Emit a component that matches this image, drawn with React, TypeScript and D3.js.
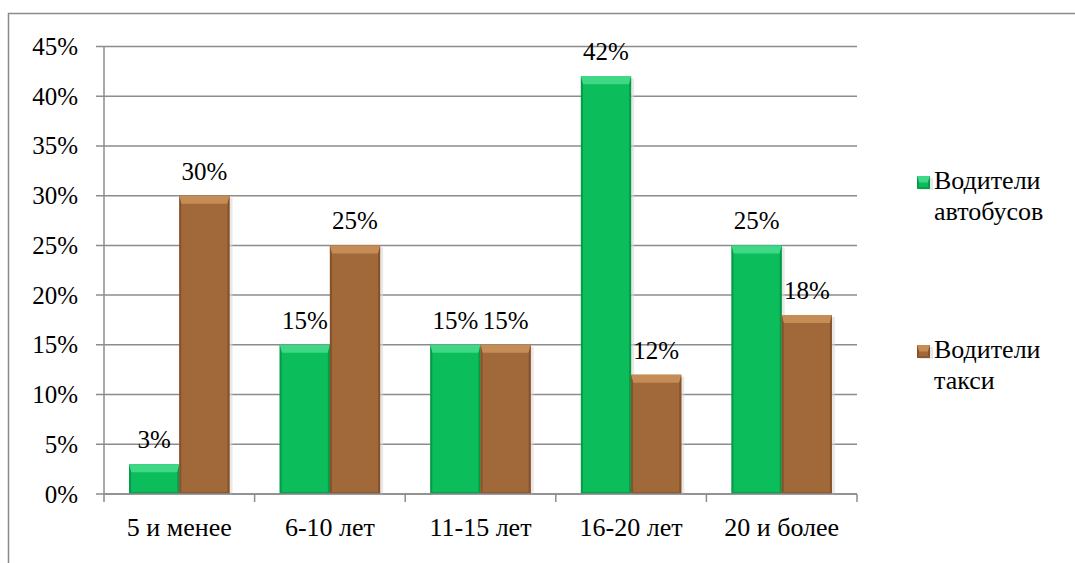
import React from 'react';
import * as d3 from 'd3';

const categories = ['5 и менее', '6-10 лет', '11-15 лет', '16-20 лет', '20 и более'];
const busDrivers = [3, 15, 15, 42, 25];
const taxiDrivers = [30, 25, 15, 12, 18];
const yTicks = [0, 5, 10, 15, 20, 25, 30, 35, 40, 45];
const seriesNames = [['Водители', 'автобусов'], ['Водители', 'такси']];

const W = 1075;
const H = 563;
const font = 'Liberation Serif';

// colours for each series: base, top bevel, side, bottom
const palette = [
  { base: '#0bbd5b', top: '#3fd886', side: '#089a48', bottom: '#07a04c' },
  { base: '#a1683a', top: '#c58c56', side: '#85522a', bottom: '#8b5830' },
];

const Bar = ({ x, y, w, h, c }: any) => {
  const b = Math.min(8, h / 2);
  const s = Math.min(2, w / 4);
  return (
    <g>
      <rect x={x + 3} y={y + 2} width={w} height={h - 1} fill="#d9d9d9" opacity={0.6} />
      <rect x={x} y={y} width={w} height={h} fill={c.base} />
      <polygon points={`${x},${y} ${x + w},${y} ${x + w - s},${y + b} ${x + s},${y + b}`} fill={c.top} />
      <polygon points={`${x},${y} ${x + s},${y + b} ${x + s},${y + h - s} ${x},${y + h}`} fill={c.side} />
      <polygon points={`${x + w},${y} ${x + w - s},${y + b} ${x + w - s},${y + h - s} ${x + w},${y + h}`} fill={c.side} />
      <polygon points={`${x},${y + h} ${x + s},${y + h - s} ${x + w - s},${y + h - s} ${x + w},${y + h}`} fill={c.bottom} />
    </g>
  );
};

export default function App() {
  const left = 104;
  const right = 857;
  const top = 46.5;
  const bottom = 494;

  const x = d3.scaleBand().domain(categories).range([left, right]).padding(0);
  const y = d3.scaleLinear().domain([0, 45]).range([bottom, top]);
  const bw = x.bandwidth() / 3;
  const series = [busDrivers, taxiDrivers];

  return (
    <div style={{ position: 'fixed', left: 0, top: 0 }}>
      <svg width={W} height={H} style={{ display: 'block', background: '#fff' }} fontFamily={font}>
        {/* outer frame */}
        <rect x={8.5} y={13.5} width={1200} height={700} fill="none" stroke="#8a8a8a" strokeWidth={1.5} />

        {/* gridlines and y ticks */}
        {yTicks.map(t => (
          <g key={t}>
            <line x1={left - 8} x2={right} y1={y(t)} y2={y(t)} stroke="#8c8c8c" strokeWidth={1.5} />
            <text x={78} y={y(t) + 8.5} textAnchor="end" fontFamily={font} fontSize={25} fill="#000">
              {t}%
            </text>
          </g>
        ))}
        <line x1={left} x2={left} y1={top} y2={bottom} stroke="#8c8c8c" strokeWidth={1.5} />

        {/* x ticks */}
        {[...categories.map(c => x(c) as number), right].map((v, i) => (
          <line key={i} x1={v} x2={v} y1={bottom} y2={bottom + 8} stroke="#8c8c8c" strokeWidth={1.5} />
        ))}

        {/* bars */}
        {series.map((vals, si) =>
          vals.map((v, i) => {
            const bx = (x(categories[i]) as number) + bw / 2 + si * bw;
            return (
              <g key={`${si}-${i}`}>
                <Bar x={bx} y={y(v)} w={bw} h={bottom - y(v)} c={palette[si]} />
                <text x={bx + bw / 2} y={y(v) - 16} textAnchor="middle" fontFamily={font} fontSize={25} fill="#000">
                  {v}%
                </text>
              </g>
            );
          })
        )}
        <line x1={left} x2={right} y1={bottom} y2={bottom} stroke="#8c8c8c" strokeWidth={1.5} />

        {/* category labels */}
        {categories.map(c => (
          <text key={c} x={(x(c) as number) + x.bandwidth() / 2} y={536} textAnchor="middle" fontFamily={font} fontSize={26} fill="#000">
            {c}
          </text>
        ))}

        {/* legend */}
        {seriesNames.map((lines, i) => {
          const ly = i === 0 ? 189 : 358;
          return (
            <g key={i}>
              <Bar x={917} y={ly - 13} w={13} h={13} c={palette[i]} />
              {lines.map((l, j) => (
                <text key={j} x={934} y={ly + j * 31} fontFamily={font} fontSize={26} fill="#000">
                  {l}
                </text>
              ))}
            </g>
          );
        })}
      </svg>
    </div>
  );
}
